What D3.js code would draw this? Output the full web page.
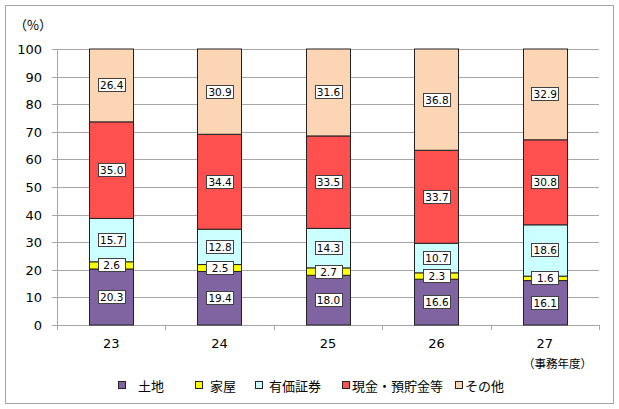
<!DOCTYPE html>
<html><head><meta charset="utf-8">
<script src="https://cdn.jsdelivr.net/npm/d3@7"></script>
<style>
body{margin:0;background:#fff;}
svg{display:block;}
text{font-family:"DejaVu Sans","Noto Sans CJK JP",sans-serif;}
.jp{font-family:"Noto Sans CJK JP",sans-serif;}
</style></head>
<body><svg id="c" width="619" height="409"></svg>
<script>
const categories = ["23","24","25","26","27"];
const seriesNames = ["土地","家屋","有価証券","現金・預貯金等","その他"];
const land   = [20.3,19.4,18.0,16.6,16.1];
const house  = [2.6,2.5,2.7,2.3,1.6];
const secs   = [15.7,12.8,14.3,10.7,18.6];
const cash   = [35.0,34.4,33.5,33.7,30.8];
const other  = [26.4,30.9,31.6,36.8,32.9];
const yTicks = [0,10,20,30,40,50,60,70,80,90,100];
const colors = ["#8064A2","#FFFF00","#CCFFFF","#FF5050","#FCD5B4"];

const seriesVals = [land,house,secs,cash,other];
const svg = d3.select("#c");
svg.append("rect").attr("x",5.5).attr("y",5.5).attr("width",608).attr("height",398)
  .attr("fill","#fff").attr("stroke","#a6a6a6").attr("stroke-width",1);

const x0=57,x1=599,yTop=49,yBot=325;
const x = d3.scaleBand().domain(categories).range([x0,x1]).paddingInner(0.59).paddingOuter(0.295);
const y = d3.scaleLinear().domain([0,100]).range([yBot,yTop]);

// gridlines
svg.append("g").selectAll("line").data(yTicks).join("line")
  .attr("x1",52).attr("x2",x1).attr("y1",d=>Math.round(y(d))+0.5).attr("y2",d=>Math.round(y(d))+0.5)
  .attr("stroke","#a6a6a6");
// y axis line
svg.append("line").attr("x1",x0+0.5).attr("x2",x0+0.5).attr("y1",yTop).attr("y2",yBot).attr("stroke","#a6a6a6");
// x tick marks
const bounds = d3.range(categories.length+1).map(i=>x0+i*(x1-x0)/categories.length);
svg.append("g").selectAll("line").data(bounds).join("line")
  .attr("x1",d=>Math.round(d)+0.5).attr("x2",d=>Math.round(d)+0.5).attr("y1",yBot).attr("y2",yBot+5).attr("stroke","#a6a6a6");

// y labels
svg.append("g").selectAll("text").data(yTicks).join("text")
  .attr("x",42).attr("y",d=>y(d)+5).attr("text-anchor","end").attr("font-size",13).attr("fill","#000").text(d=>d);
svg.append("text").attr("class","jp").attr("x",33).attr("y",30).attr("text-anchor","middle").attr("font-size",13).text("（%）");

// x labels
svg.append("g").selectAll("text").data(categories).join("text")
  .attr("x",d=>x(d)+x.bandwidth()/2).attr("y",348).attr("text-anchor","middle").attr("font-size",13).text(d=>d);
svg.append("text").attr("class","jp").attr("x",592).attr("y",368).attr("text-anchor","end").attr("font-size",11.5).text("（事務年度）");

// stacked data
const rows = categories.map((c,i)=>{const o={cat:c}; seriesNames.forEach((s,j)=>o[s]=seriesVals[j][i]); return o;});
const stack = d3.stack().keys(seriesNames)(rows);

const g = svg.append("g");
stack.forEach((layer,j)=>{
  g.append("g").selectAll("rect").data(layer).join("rect")
    .attr("x",d=>Math.round(x(d.data.cat))+0.5).attr("width",Math.round(x.bandwidth()))
    .attr("y",d=>y(Math.min(100,d[1]))).attr("height",d=>y(d[0])-y(Math.min(100,d[1])))
    .attr("fill",colors[j]).attr("stroke","#222").attr("stroke-width",1);
});
// labels
stack.forEach((layer,j)=>{
  const lg = svg.append("g");
  layer.forEach(d=>{
    const cx = x(d.data.cat)+x.bandwidth()/2;
    const cy = y((d[0]+Math.min(100,d[1]))/2);
    const t = d.data[seriesNames[j]].toFixed(1);
    lg.append("rect").attr("x",Math.round(cx-13.5)+0.5).attr("y",Math.round(cy-7)+0.5).attr("width",27).attr("height",13)
      .attr("fill","#fff").attr("stroke","#404040");
    lg.append("text").attr("x",cx+0.5).attr("y",cy+4).attr("text-anchor","middle").attr("font-size",10.5).attr("fill","#000").text(t);
  });
});

// legend
const legX = [118,195,255,342,455];
const legTx = [138,210,269,352,465];
const lgd = svg.append("g");
seriesNames.forEach((s,j)=>{
  lgd.append("rect").attr("x",legX[j]+0.5).attr("y",381.5).attr("width",7).attr("height",7).attr("fill",colors[j]).attr("stroke","#222");
  lgd.append("text").attr("class","jp").attr("x",legTx[j]).attr("y",391).attr("font-size",13).text(s);
});
</script></body></html>
